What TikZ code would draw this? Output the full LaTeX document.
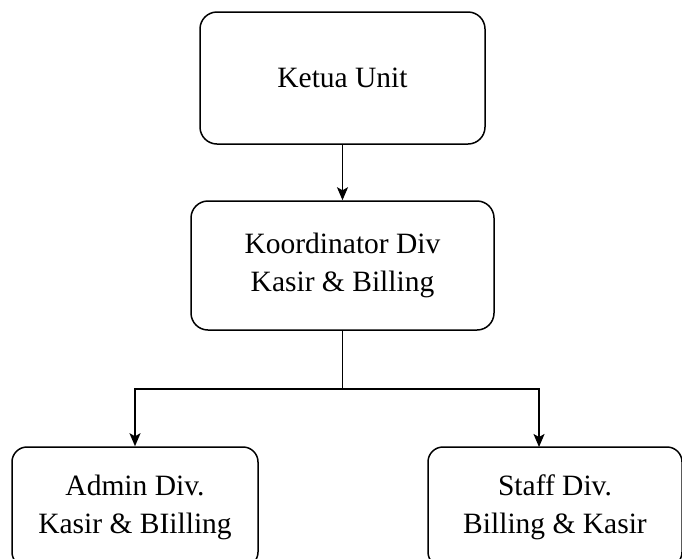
\documentclass[tikz,border=0pt]{standalone}
\usepackage{fontspec}
\setmainfont{Liberation Serif}
\usetikzlibrary{arrows.meta}
\begin{document}
\begin{tikzpicture}[x=1pt,y=-1pt,
  box/.style={draw=black,line width=1.5pt,rounded corners=17pt,fill=white,align=center,inner sep=0pt,
    font=\fontsize{29.5}{38}\selectfont},
  arr/.style={line width=1.6pt,-{Stealth[length=13pt,width=11pt,inset=3pt]}},
  conn/.style={line width=1.6pt}]
\useasboundingbox (0,0) rectangle (682,558);
\fill[white] (0,0) rectangle (682,558);
\node[box,minimum width=285pt,minimum height=132pt] (ketua) at (342.5,78) {Ketua Unit};
\node[box,minimum width=303pt,minimum height=129pt] (koord) at (342.5,265.5) {Koordinator Div\\Kasir \& Billing};
\node[box,rounded corners=15pt,minimum width=246pt,minimum height=120pt] (admin) at (135,507) {Admin Div.\\Kasir \& BIilling};
\node[box,rounded corners=15pt,minimum width=254pt,minimum height=120pt] (staff) at (555,507) {Staff Div.\\Billing \& Kasir};
\coordinate (bar) at (342.5,389);
\coordinate (stafftop) at (539,447);
\draw[arr] (ketua) -- (koord);
\draw[conn] (koord) -- (bar);
\draw[arr] (bar) -| (admin);
\draw[arr] (bar) -| (stafftop);
\end{tikzpicture}
\end{document}
